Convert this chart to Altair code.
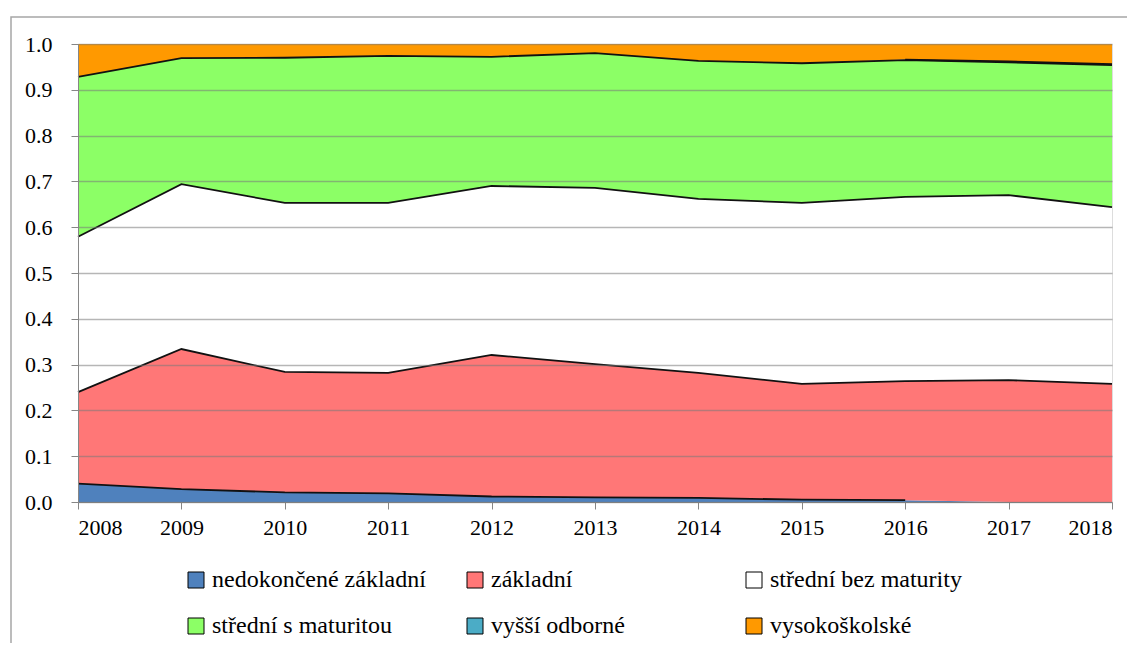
import altair as alt
import pandas as pd

years = [2008, 2009, 2010, 2011, 2012, 2013, 2014, 2015, 2016, 2017, 2018]
series_names = [
    "nedokončené základní",
    "základní",
    "střední bez maturity",
    "střední s maturitou",
    "vyšší odborné",
    "vysokoškolské",
]
colors = ["#4F81BD", "#FF7777", "#FFFFFF", "#8CFF66", "#4BACC6", "#FF9900"]

nedokoncene = [0.040, 0.028, 0.021, 0.019, 0.012, 0.010, 0.009, 0.005, 0.004, 0.0, 0.0]
zakladni = [0.200, 0.306, 0.263, 0.263, 0.309, 0.291, 0.273, 0.253, 0.260, 0.266, 0.258]
stredni_bez = [0.339, 0.360, 0.369, 0.371, 0.369, 0.385, 0.380, 0.395, 0.402, 0.404, 0.386]
stredni_s = [0.349, 0.275, 0.317, 0.321, 0.282, 0.294, 0.301, 0.305, 0.299, 0.290, 0.310]
vyssi = [0.0, 0.0, 0.0, 0.0, 0.0, 0.0, 0.0, 0.0, 0.001, 0.002, 0.002]
vysokoskolske = [0.072, 0.031, 0.030, 0.026, 0.028, 0.020, 0.037, 0.042, 0.034, 0.038, 0.044]

y_ticks = [0.0, 0.1, 0.2, 0.3, 0.4, 0.5, 0.6, 0.7, 0.8, 0.9, 1.0]

all_series = [nedokoncene, zakladni, stredni_bez, stredni_s, vyssi, vysokoskolske]
rows = []
for i, (name, vals) in enumerate(zip(series_names, all_series)):
    for yr, v in zip(years, vals):
        rows.append({"year": yr, "series": name, "order": i, "value": v})
df = pd.DataFrame(rows)

FONT = "Liberation Serif"

base = alt.Chart(df).transform_stack(
    stack="value",
    groupby=["year"],
    as_=["y0", "y1"],
    sort=[alt.SortField("order", order="ascending")],
)

x_enc = alt.X(
    "year:Q",
    scale=alt.Scale(domain=[2008, 2018], nice=False, zero=False),
    axis=alt.Axis(
        values=years, format="d", title=None, grid=False,
        domainColor="#868686", tickColor="#868686", tickSize=7,
        labelFont=FONT, labelFontSize=22, labelColor="black", labelPadding=8,
    ),
)
y_scale = alt.Scale(domain=[0, 1], nice=False)

areas = base.mark_area(opacity=1).encode(
    x=x_enc,
    y=alt.Y(
        "y0:Q",
        scale=y_scale,
        axis=alt.Axis(
            values=y_ticks, format=".1f", title=None, grid=True,
            gridColor="#7a7a7a", gridOpacity=0.55, gridWidth=1.5,
            domainColor="#868686", tickColor="#868686", tickSize=7,
            labelFont=FONT, labelFontSize=22, labelColor="black", labelPadding=19,
            zindex=1,
        ),
    ),
    y2="y1:Q",
    color=alt.Color(
        "series:N",
        scale=alt.Scale(domain=series_names, range=colors),
        legend=alt.Legend(
            title=None, orient="none", legendX=106, legendY=524,
            columns=3, direction="horizontal", gridAlign="all",
            columnPadding=37, rowPadding=22,
            symbolType="square", symbolSize=256, symbolStrokeColor="black",
            symbolStrokeWidth=1, symbolOpacity=1,
            labelFont=FONT, labelFontSize=24, labelColor="black", labelOffset=4,
            labelLimit=400,
        ),
    ),
)

lines = base.transform_filter("datum.value > 0 && datum.order < 5").mark_line(
    color="#111111", strokeWidth=1.8
).encode(
    x=alt.X("year:Q"),
    y=alt.Y("y1:Q", scale=y_scale),
    detail="series:N",
)

frame = alt.Chart(pd.DataFrame({"k": [0]})).mark_rect(
    fill="transparent", stroke="#a6a6a6", strokeWidth=1.5
).encode(
    x=alt.value(-67), x2=alt.value(1070),
    y=alt.value(-27), y2=alt.value(620),
)

chart = alt.layer(frame, areas, lines).properties(
    width=1034, height=458,
    padding={"left": 70, "top": 36, "right": 15, "bottom": 141},
    autosize=alt.AutoSizeParams(type="none"),
).configure_view(stroke=None).configure(background="white")

chart.save("out.html", embed_options={"renderer": "svg", "actions": False})
